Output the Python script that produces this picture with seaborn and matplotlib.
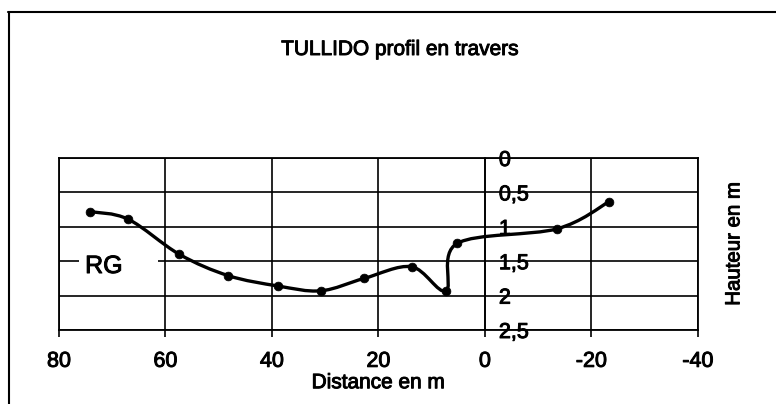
import matplotlib
matplotlib.use("Agg")
import matplotlib.pyplot as plt
import matplotlib.patheffects as pe
import seaborn as sns
import numpy as np
from matplotlib.path import Path
from matplotlib.patches import PathPatch, Rectangle
from matplotlib.lines import Line2D
from matplotlib.ticker import FuncFormatter

# Cross-section survey: distance across the channel (m) and depth below the reference (m)
distance = [74.1, 67.0, 57.4, 48.2, 38.9, 30.8, 22.7, 13.8, 7.35, 5.2, -13.5, -23.2]
hauteur = [0.78, 0.89, 1.40, 1.71, 1.86, 1.93, 1.75, 1.58, 1.93, 1.24, 1.03, 0.64]

x_ticks = [80, 60, 40, 20, 0, -20, -40]
y_ticks = [0, 0.5, 1, 1.5, 2, 2.5]

title = "TULLIDO profil en travers"
x_label = "Distance en m"
y_label = "Hauteur en m"
bank_label = "RG"

sns.set_style("white")
plt.rcParams["font.family"] = ["Liberation Sans", "DejaVu Sans"]
plt.rcParams["axes.unicode_minus"] = False

# slightly heavier strokes for all lettering
heavy = [pe.withStroke(linewidth=0.7, foreground="black")]

W, H = 776, 404
fig = plt.figure(figsize=(W / 100, H / 100), dpi=100)
fig.patch.set_facecolor("white")
ax = fig.add_axes([59 / W, (H - 330) / H, 639 / W, 172 / H])

# Markers at each surveyed point
sns.scatterplot(x=distance, y=hauteur, ax=ax, color="black", edgecolor="black",
                s=40, marker="o", zorder=6, legend=False)


def smooth_path(xs, ys):
    """Cubic Bezier path through the points (Catmull-Rom style smoothing)."""
    pts = np.column_stack([xs, ys]).astype(float)
    n = len(pts)
    verts = [pts[0]]
    codes = [Path.MOVETO]
    for i in range(n - 1):
        p0 = pts[i - 1] if i > 0 else pts[i]
        p1 = pts[i]
        p2 = pts[i + 1]
        p3 = pts[i + 2] if i + 2 < n else pts[i + 1]
        c1 = p1 + (p2 - p0) / 6.0
        c2 = p2 - (p3 - p1) / 6.0
        verts += [c1, c2, p2]
        codes += [Path.CURVE4] * 3
    return Path(verts, codes)


ax.add_patch(PathPatch(smooth_path(distance, hauteur), facecolor="none",
                       edgecolor="black", lw=2.4, zorder=5, capstyle="round",
                       joinstyle="round"))

ax.set_xlim(80, -40)
ax.set_ylim(2.5, 0)
ax.set_xticks(x_ticks)
ax.set_xticklabels([f"{t:d}" for t in x_ticks])
ax.set_yticks(y_ticks)
ax.tick_params(axis="x", direction="out", length=5, width=1.2, color="black",
               pad=10, labelsize=15.5, labelcolor="black", bottom=True)
ax.tick_params(axis="y", length=0, labelleft=False, left=False)
ax.grid(True, color="black", linewidth=1.2)
for sp in ax.spines.values():
    sp.set_color("black")
    sp.set_linewidth(1.3)
ax.set_xlabel(x_label, fontsize=15, labelpad=1, color="black")
ax.yaxis.set_label_position("right")
ax.set_ylabel(y_label, fontsize=14.7, labelpad=19, color="black")

# Depth scale drawn along the x = 0 line, labels to its right
sec = ax.secondary_yaxis(0, transform=ax.transData)
sec.set_alignment("right")
sec.set_yticks(y_ticks)
sec.yaxis.set_major_formatter(FuncFormatter(lambda v, p: f"{v:g}".replace(".", ",")))
sec.tick_params(length=0, pad=10, labelsize=15.5, labelcolor="black")
for sp in sec.spines.values():
    sp.set_color("black")
    sp.set_linewidth(1.2)

# Left-bank label on a white patch
ax.add_patch(Rectangle((76.3, 1.38), -14.9, 0.34, facecolor="white",
                       edgecolor="none", zorder=3))
ax.text(75.1, 1.57, bank_label, fontsize=18, ha="left", va="center",
        color="black", zorder=4, path_effects=heavy)

fig.text(400 / W, 1 - 55 / H, title, fontsize=15, ha="center", va="baseline",
         color="black", path_effects=heavy)

for lab in (ax.get_xticklabels() + sec.get_yticklabels()
            + [ax.xaxis.label, ax.yaxis.label]):
    lab.set_path_effects(heavy)

# Chart frame
fig.add_artist(Line2D([8 / W, 1.0], [1 - 12 / H, 1 - 12 / H],
                      transform=fig.transFigure, color="black", lw=1.5))
fig.add_artist(Line2D([8.5 / W, 8.5 / W], [0.0, 1 - 12 / H],
                      transform=fig.transFigure, color="black", lw=1.5))

fig.savefig("out.png", dpi=100, facecolor="white")
